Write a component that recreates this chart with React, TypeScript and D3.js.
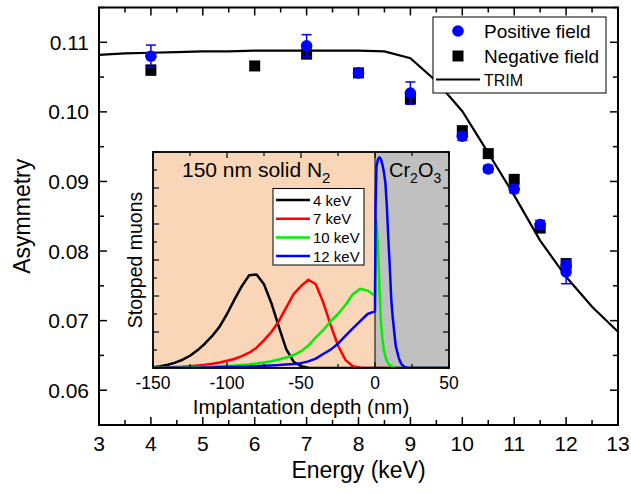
import React from 'react';
import * as d3 from 'd3';

// ---------- Main plot data ----------
const posEnergy = [4, 7, 8, 9, 10, 10.5, 11, 11.5, 12, 12];
const posAsym = [0.108, 0.1095, 0.1056, 0.1027, 0.0965, 0.0918, 0.0889, 0.0838, 0.0779, 0.077];
const posErr = [0.0016, 0.0016, 0.0005, 0.0016, 0.0006, 0.0005, 0.0005, 0.0006, 0.0006, 0.0017];

const negEnergy = [4, 6, 7, 8, 9, 10, 10.5, 11, 11.5, 12];
const negAsym = [0.106, 0.1066, 0.1083, 0.1056, 0.1019, 0.0973, 0.094, 0.0903, 0.0833, 0.0782];
const negErr = [0.0007, 0.0005, 0.0006, 0.0004, 0.0007, 0.0005, 0.0005, 0.0005, 0.0005, 0.0005];

const trimEnergy = [3, 3.5, 4, 4.5, 5, 5.5, 6, 6.5, 7, 7.5, 8, 8.5, 9, 9.5, 10, 10.5, 11, 11.5, 12, 12.5, 13];
const trimAsym = [0.1082, 0.1084, 0.1085, 0.1086, 0.1087, 0.1087, 0.1088, 0.1088, 0.1088, 0.1088, 0.1088, 0.1087, 0.1077, 0.1044, 0.1001, 0.0941, 0.088, 0.0815, 0.0763, 0.072, 0.0684];

const xTicks = [3, 4, 5, 6, 7, 8, 9, 10, 11, 12, 13];
const yTicks = [0.06, 0.07, 0.08, 0.09, 0.1, 0.11];
const yTickLabels = ['0.06', '0.07', '0.08', '0.09', '0.10', '0.11'];

// ---------- Inset data ----------
const depthN2 = [-150, -145, -140, -135, -130, -125, -120, -115, -110, -105, -100, -95, -90, -85, -80, -75, -70, -65, -60, -55, -50, -45, -40, -35, -30, -25, -20, -15, -10, -5, 0];
const depthCr = [0.4, 1, 2, 3, 4, 5, 6, 7, 8, 9, 10, 11, 12, 13, 14, 15, 16, 17, 18, 20, 22, 25, 50];

const muon4N2 = [0.004, 0.01, 0.018, 0.03, 0.046, 0.068, 0.098, 0.135, 0.178, 0.23, 0.3, 0.38, 0.455, 0.515, 0.52, 0.465, 0.36, 0.23, 0.105, 0.035, 0.01, 0.002, 0, 0, 0, 0, 0, 0, 0, 0, 0];
const muon4Cr = [0, 0, 0, 0, 0, 0, 0, 0, 0, 0, 0, 0, 0, 0, 0, 0, 0, 0, 0, 0, 0, 0, 0];

const muon7N2 = [0.001, 0.002, 0.003, 0.005, 0.007, 0.01, 0.014, 0.018, 0.024, 0.031, 0.04, 0.05, 0.066, 0.085, 0.113, 0.155, 0.2, 0.26, 0.335, 0.41, 0.455, 0.49, 0.465, 0.365, 0.24, 0.125, 0.045, 0.01, 0.002, 0, 0];
const muon7Cr = [0, 0, 0, 0, 0, 0, 0, 0, 0, 0, 0, 0, 0, 0, 0, 0, 0, 0, 0, 0, 0, 0, 0];

const muon10N2 = [0.001, 0.001, 0.002, 0.002, 0.003, 0.004, 0.005, 0.006, 0.008, 0.01, 0.012, 0.014, 0.017, 0.02, 0.025, 0.031, 0.038, 0.047, 0.058, 0.072, 0.092, 0.125, 0.17, 0.21, 0.26, 0.3, 0.35, 0.41, 0.44, 0.43, 0.4];
const muon10Cr = [0.8, 0.82, 0.68, 0.45, 0.26, 0.16, 0.1, 0.065, 0.04, 0.025, 0.015, 0.01, 0.006, 0.003, 0.001, 0, 0, 0, 0, 0, 0, 0, 0];

const muon12N2 = [0, 0, 0.001, 0.001, 0.001, 0.002, 0.002, 0.003, 0.003, 0.004, 0.005, 0.006, 0.007, 0.008, 0.01, 0.012, 0.014, 0.016, 0.019, 0.022, 0.027, 0.037, 0.052, 0.078, 0.102, 0.135, 0.178, 0.22, 0.26, 0.3, 0.315];
const muon12Cr = [0.9, 1.12, 1.16, 1.17, 1.16, 1.13, 1.09, 1.03, 0.9, 0.72, 0.56, 0.38, 0.28, 0.2, 0.125, 0.09, 0.058, 0.035, 0.02, 0.006, 0.001, 0, 0];

const insetLabels = ['4 keV', '7 keV', '10 keV', '12 keV'];
const insetColors = ['#000000', '#ff0000', '#00ee00', '#0000ff'];
const insetXTicks = [-150, -100, -50, 0, 50];

const FONT = "'Liberation Sans', Arial, Helvetica, sans-serif";

export default function App() {
  const W = 631, H = 494;
  const x = d3.scaleLinear().domain([3, 13]).range([99, 618]);
  const y = d3.scaleLinear().domain([0.055, 0.115]).range([425, 7.5]);
  const [x0, x1] = x.range();
  const [y0, y1] = y.range();

  const ix = d3.scaleLinear().domain([-150, 50]).range([153, 449]);
  const iy = d3.scaleLinear().domain([0, 1.2]).range([368, 152]);

  const trimLine = d3.line<number>().x((_, i) => x(trimEnergy[i])).y(d => y(d));

  const muonSeries = [
    [...muon4N2, ...muon4Cr],
    [...muon7N2, ...muon7Cr],
    [...muon10N2, ...muon10Cr],
    [...muon12N2, ...muon12Cr],
  ];
  const depthAll = [...depthN2, ...depthCr];
  const muonLine = d3.line<number>().x((_, i) => ix(depthAll[i])).y(d => iy(d));

  // main ticks
  const mainXTickVals = d3.range(0, 21).map(i => 3 + i * 0.5);
  const mainYTickVals = d3.range(0, 13).map(i => 0.055 + i * 0.005);
  const insetXTickVals = d3.range(0, 9).map(i => -150 + i * 25);
  const insetYTickVals = d3.range(0, 13).map(i => i * 0.1);

  const capW = 5;

  return (
    <div style={{ position: 'absolute', left: 0, top: 0 }}>
      <svg width={W} height={H} style={{ display: 'block', fontFamily: FONT }}>
        <rect x={0} y={0} width={W} height={H} fill="#fff" />
        {/* TRIM line */}
        <path d={trimLine(trimAsym) || ''} fill="none" stroke="#000" strokeWidth={2.2} />

        {/* negative field */}
        {negEnergy.map((e, i) => (
          <g key={'n' + i}>
            <line x1={x(e)} x2={x(e)} y1={y(negAsym[i] - negErr[i])} y2={y(negAsym[i] + negErr[i])} stroke="#222" strokeWidth={1.5} />
            <line x1={x(e) - capW} x2={x(e) + capW} y1={y(negAsym[i] - negErr[i])} y2={y(negAsym[i] - negErr[i])} stroke="#222" strokeWidth={1.5} />
            <line x1={x(e) - capW} x2={x(e) + capW} y1={y(negAsym[i] + negErr[i])} y2={y(negAsym[i] + negErr[i])} stroke="#222" strokeWidth={1.5} />
            <rect x={x(e) - 5.5} y={y(negAsym[i]) - 5.5} width={11} height={11} fill="#000" />
          </g>
        ))}
        {/* positive field */}
        {posEnergy.map((e, i) => (
          <g key={'p' + i}>
            <line x1={x(e)} x2={x(e)} y1={y(posAsym[i] - posErr[i])} y2={y(posAsym[i] + posErr[i])} stroke="#0000ff" strokeWidth={1.5} />
            <line x1={x(e) - capW} x2={x(e) + capW} y1={y(posAsym[i] - posErr[i])} y2={y(posAsym[i] - posErr[i])} stroke="#0000ff" strokeWidth={1.5} />
            <line x1={x(e) - capW} x2={x(e) + capW} y1={y(posAsym[i] + posErr[i])} y2={y(posAsym[i] + posErr[i])} stroke="#0000ff" strokeWidth={1.5} />
            <circle cx={x(e)} cy={y(posAsym[i])} r={5.8} fill="#0000ff" />
          </g>
        ))}

        {/* main frame */}
        <rect x={x0} y={y1} width={x1 - x0} height={y0 - y1} fill="none" stroke="#000" strokeWidth={2} />
        {mainXTickVals.map((v, i) => {
          const len = Number.isInteger(v) ? 8 : 5;
          return (
            <g key={'xt' + i}>
              <line x1={x(v)} x2={x(v)} y1={y0} y2={y0 - len} stroke="#000" strokeWidth={1.5} />
              <line x1={x(v)} x2={x(v)} y1={y1} y2={y1 + len} stroke="#000" strokeWidth={1.5} />
            </g>
          );
        })}
        {mainYTickVals.map((v, i) => {
          const len = i % 2 === 1 ? 8 : 5;
          return (
            <g key={'yt' + i}>
              <line x1={x0} x2={x0 + len} y1={y(v)} y2={y(v)} stroke="#000" strokeWidth={1.5} />
              <line x1={x1} x2={x1 - len} y1={y(v)} y2={y(v)} stroke="#000" strokeWidth={1.5} />
            </g>
          );
        })}
        {xTicks.map(v => (
          <text key={'xl' + v} x={x(v)} y={451} fontSize={21} textAnchor="middle" fill="#000">{v}</text>
        ))}
        {yTicks.map((v, i) => (
          <text key={'yl' + i} x={89} y={y(v) + 7.5} fontSize={21} textAnchor="end" fill="#000">{yTickLabels[i]}</text>
        ))}
        <text x={(x0 + x1) / 2} y={478} fontSize={23} textAnchor="middle" fill="#000">Energy (keV)</text>
        <text transform={`translate(30,${(y0 + y1) / 2}) rotate(-90)`} fontSize={23} textAnchor="middle" fill="#000">Asymmetry</text>

        {/* legend */}
        <rect x={433} y={17} width={173} height={76} fill="#fff" stroke="#000" strokeWidth={1} />
        <circle cx={458} cy={31} r={5.8} fill="#0000ff" />
        <text x={484} y={37.5} fontSize={19} fill="#000">Positive field</text>
        <rect x={452.5} y={50.5} width={11} height={11} fill="#000" />
        <text x={484} y={62.5} fontSize={19} fill="#000">Negative field</text>
        <line x1={436} x2={480} y1={79.5} y2={79.5} stroke="#000" strokeWidth={2} />
        <text x={484} y={85.5} fontSize={16} fill="#000">TRIM</text>

        {/* ---------- inset ---------- */}
        <defs>
          <clipPath id="insetClip">
            <rect x={ix(-150)} y={iy(1.2)} width={ix(50) - ix(-150)} height={iy(0) - iy(1.2)} />
          </clipPath>
        </defs>
        <rect x={ix(-150)} y={iy(1.2)} width={ix(0) - ix(-150)} height={iy(0) - iy(1.2)} fill="#f9d6b8" />
        <rect x={ix(0)} y={iy(1.2)} width={ix(50) - ix(0)} height={iy(0) - iy(1.2)} fill="#c0c0c0" />
        <line x1={ix(0)} x2={ix(0)} y1={iy(0)} y2={iy(1.2)} stroke="#000" strokeWidth={1} />
        <g clipPath="url(#insetClip)">
          {muonSeries.map((s, k) => (
            <path key={'m' + k} d={muonLine(s) || ''} fill="none" stroke={insetColors[k]} strokeWidth={2.5} strokeLinejoin="round" />
          ))}
        </g>
        <rect x={ix(-150)} y={iy(1.2)} width={ix(50) - ix(-150)} height={iy(0) - iy(1.2)} fill="none" stroke="#000" strokeWidth={1.8} />
        {insetXTickVals.map((v, i) => {
          const len = i % 2 === 0 ? 6 : 4;
          return (
            <g key={'ixt' + i}>
              <line x1={ix(v)} x2={ix(v)} y1={iy(0)} y2={iy(0) - len} stroke="#000" strokeWidth={1.2} />
              <line x1={ix(v)} x2={ix(v)} y1={iy(1.2)} y2={iy(1.2) + len} stroke="#000" strokeWidth={1.2} />
            </g>
          );
        })}
        {insetYTickVals.map((v, i) => {
          const len = i % 2 === 0 ? 6 : 4;
          return (
            <g key={'iyt' + i}>
              <line x1={ix(-150)} x2={ix(-150) + len} y1={iy(v)} y2={iy(v)} stroke="#000" strokeWidth={1.2} />
              <line x1={ix(50)} x2={ix(50) - len} y1={iy(v)} y2={iy(v)} stroke="#000" strokeWidth={1.2} />
            </g>
          );
        })}
        {insetXTicks.map(v => (
          <text key={'ixl' + v} x={ix(v)} y={389} fontSize={17.5} textAnchor="middle" fill="#000">{v}</text>
        ))}
        <text x={(ix(-150) + ix(50)) / 2} y={414} fontSize={20.5} textAnchor="middle" fill="#000">Implantation depth (nm)</text>
        <text transform={`translate(142,${(iy(0) + iy(1.2)) / 2}) rotate(-90)`} fontSize={19.5} textAnchor="middle" fill="#000">Stopped muons</text>
        <text x={182} y={177} fontSize={21} fill="#000">150 nm solid N<tspan fontSize={15} dy={6}>2</tspan></text>
        <text x={389} y={177} fontSize={20} fill="#000">Cr<tspan fontSize={14} dy={6}>2</tspan><tspan dy={-6}>O</tspan><tspan fontSize={14} dy={6}>3</tspan></text>

        {/* inset legend */}
        <rect x={273} y={188.5} width={91} height={76.5} fill="#fff" stroke="#000" strokeWidth={1} />
        {insetLabels.map((lab, k) => (
          <g key={'il' + k}>
            <line x1={276} x2={310} y1={200 + k * 18.7} y2={200 + k * 18.7} stroke={insetColors[k]} strokeWidth={2.5} />
            <text x={313} y={205.5 + k * 18.7} fontSize={15} fill="#000">{lab}</text>
          </g>
        ))}
      </svg>
    </div>
  );
}
